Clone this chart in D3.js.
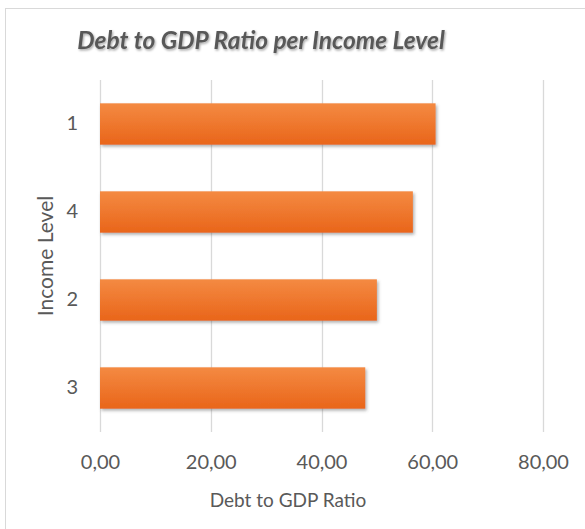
<!DOCTYPE html>
<html>
<head>
<meta charset="utf-8">
<script src="https://cdn.jsdelivr.net/npm/d3@7"></script>
<style>
  body { margin: 0; background: #fff; }
  svg { display: block; font-family: Lato, 'Open Sans', sans-serif; }
</style>
</head>
<body>
<svg></svg>
<script>
const w = 585;
const h = 529;

// data
const levels = ['1', '4', '2', '3'];
const ratios = [60.6, 56.5, 50.0, 47.9];
const xTicks = [0, 20, 40, 60, 80];

const margin = { left: 100, right: 42, top: 80, bottom: 97 };

const svg = d3.select('svg').attr('width', w).attr('height', h);

const defs = svg.append('defs');
const grad = defs
  .append('linearGradient')
  .attr('id', 'barGrad')
  .attr('x1', 0)
  .attr('y1', 0)
  .attr('x2', 0)
  .attr('y2', 1);
grad.append('stop').attr('offset', '0%').attr('stop-color', '#f48a42');
grad.append('stop').attr('offset', '100%').attr('stop-color', '#e9651a');

const shadow = defs
  .append('filter')
  .attr('id', 'shadow')
  .attr('x', '-5%')
  .attr('y', '-20%')
  .attr('width', '115%')
  .attr('height', '150%');
shadow
  .append('feDropShadow')
  .attr('dx', 1.5)
  .attr('dy', 2)
  .attr('stdDeviation', 1.5)
  .attr('flood-color', '#555')
  .attr('flood-opacity', 0.45);

const titleShadow = defs.append('filter').attr('id', 'tshadow');
titleShadow
  .append('feDropShadow')
  .attr('dx', 1)
  .attr('dy', 1.5)
  .attr('stdDeviation', 1.2)
  .attr('flood-color', '#000')
  .attr('flood-opacity', 0.35);

// chart frame
svg
  .append('rect')
  .attr('x', 5.5)
  .attr('y', 8.5)
  .attr('width', w + 10)
  .attr('height', h + 10)
  .attr('fill', '#fff')
  .attr('stroke', '#d9d9d9')
  .attr('stroke-width', 1);

const xScale = d3
  .scaleLinear()
  .domain([0, 80])
  .range([margin.left, w - margin.right]);

const yScale = d3
  .scaleBand()
  .domain(levels)
  .range([margin.top, h - margin.bottom])
  .paddingInner(0.53)
  .paddingOuter(0.265);

// gridlines
svg
  .append('g')
  .selectAll('line')
  .data(xTicks)
  .enter()
  .append('line')
  .attr('x1', d => Math.round(xScale(d)) + 0.5)
  .attr('x2', d => Math.round(xScale(d)) + 0.5)
  .attr('y1', margin.top)
  .attr('y2', h - margin.bottom)
  .attr('stroke', '#d9d9d9')
  .attr('stroke-width', 1.3);

// bars
svg
  .append('g')
  .selectAll('rect')
  .data(levels)
  .enter()
  .append('rect')
  .attr('x', xScale(0))
  .attr('y', d => yScale(d))
  .attr('width', (d, i) => xScale(ratios[i]) - xScale(0))
  .attr('height', yScale.bandwidth())
  .attr('fill', 'url(#barGrad)')
  .attr('filter', 'url(#shadow)');

// x axis
const xAxis = d3
  .axisBottom(xScale)
  .tickValues(xTicks)
  .tickSize(0)
  .tickPadding(23)
  .tickFormat(d => d3.format('.2f')(d).replace('.', ','));
const gx = svg
  .append('g')
  .attr('transform', `translate(0, ${h - margin.bottom})`)
  .call(xAxis);
gx.select('.domain').remove();
gx.selectAll('text')
  .attr('fill', '#595959')
  .style('font-size', '20px')
  .style('font-family', 'Lato, sans-serif');

// y axis
const yAxis = d3.axisLeft(yScale).tickSize(0).tickPadding(22);
const gy = svg
  .append('g')
  .attr('transform', `translate(${margin.left}, 0)`)
  .call(yAxis);
gy.select('.domain').remove();
gy.selectAll('text')
  .attr('fill', '#595959')
  .style('font-size', '20px')
  .style('font-family', 'Lato, sans-serif');

// title
svg
  .append('text')
  .attr('x', 261)
  .attr('y', 49)
  .attr('text-anchor', 'middle')
  .attr('fill', '#595959')
  .attr('filter', 'url(#tshadow)')
  .style('font-size', '24.5px')
  .style('font-weight', 'bold')
  .style('font-style', 'italic')
  .text('Debt to GDP Ratio per Income Level');

// axis titles
svg
  .append('text')
  .attr('x', 288)
  .attr('y', 507)
  .attr('text-anchor', 'middle')
  .attr('fill', '#595959')
  .style('font-size', '19px')
  .text('Debt to GDP Ratio');

svg
  .append('text')
  .attr('transform', 'translate(53, 256) rotate(-90)')
  .attr('text-anchor', 'middle')
  .attr('fill', '#595959')
  .style('font-size', '21px')
  .text('Income Level');
</script>
</body>
</html>
